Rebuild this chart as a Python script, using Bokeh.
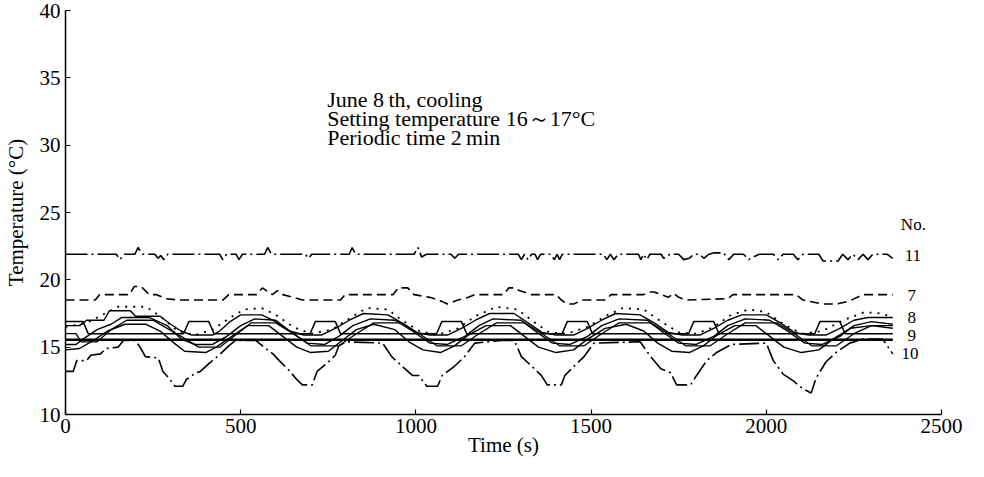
from bokeh.plotting import figure
from bokeh.models import Range1d, FixedTicker
from bokeh.core.properties import value
from bokeh.embed import file_html
from bokeh.resources import INLINE

# ---- tick values ----
x_ticks = [0, 500, 1000, 1500, 2000, 2500]
y_ticks = [10, 15, 20, 25, 30, 35, 40]

# ---- No.11 (dash-dot, ~22 C) ----
t11 = [0, 145, 155, 168, 198, 207, 220, 255, 264, 272, 281, 292, 440, 449, 460, 487, 495, 505,
       568, 577, 588, 685, 693, 703, 810, 818, 828, 995, 1006, 1016, 1030, 1100, 1111, 1122,
       1292, 1301, 1310, 1320, 1330, 1340, 1347, 1356, 1385, 1395, 1403, 1410, 1418, 1535, 1545,
       1555, 1565, 1578, 1635, 1642, 1650, 1659, 1668, 1700, 1707, 1725, 1750, 1764, 1780, 1793,
       1810, 1822, 1836, 1850, 1878, 1893, 1907, 1935, 1950, 1963, 1980, 2020, 2034, 2048, 2077,
       2090, 2105, 2150, 2162, 2205, 2218, 2233, 2247, 2262, 2276, 2290, 2304, 2345, 2361]
v11 = [21.9, 21.9, 21.5, 21.9, 21.9, 22.4, 21.9, 21.9, 21.6, 21.8, 21.5, 21.9, 21.9, 21.5, 21.9, 21.9, 21.5, 21.9,
       21.9, 22.4, 21.9, 21.9, 21.6, 21.9, 21.9, 22.4, 21.9, 21.9, 22.4, 21.7, 21.9, 21.9, 21.6, 21.9,
       21.9, 21.5, 21.9, 21.5, 21.9, 21.9, 21.5, 21.9, 21.9, 21.5, 21.9, 21.5, 21.9, 21.9, 21.5,
       21.9, 21.5, 21.9, 21.9, 21.5, 21.9, 21.5, 21.9, 21.9, 21.6, 21.9, 21.9, 21.5, 21.6, 21.9,
       21.9, 21.6, 21.9, 22.0, 22.0, 21.5, 21.9, 21.9, 21.5, 21.7, 21.9, 21.9, 21.5, 21.9, 21.9,
       21.5, 21.9, 21.9, 21.4, 21.4, 21.9, 21.5, 21.9, 21.5, 21.9, 21.5, 21.9, 21.9, 21.6]

# ---- No.7 (dashed, ~18.5 C) ----
t7 = [0, 85, 97, 182, 196, 216, 239, 260, 287, 324, 449, 466, 545, 562, 590, 605, 620, 650, 676,
      785, 798, 935, 949, 977, 995, 1040, 1074, 1090, 1120, 1150, 1168, 1250, 1265, 1281, 1295,
      1330, 1400, 1415, 1432, 1450, 1475, 1540, 1557, 1650, 1665, 1680, 1700, 1720, 1736, 1750,
      1773, 1890, 1905, 2085, 2105, 2162, 2199, 2235, 2276, 2361]
v7 = [18.5, 18.5, 18.9, 18.9, 19.5, 19.5, 18.9, 18.9, 18.6, 18.5, 18.5, 18.9, 18.9, 19.4, 18.9, 19.2, 18.9, 18.7, 18.5,
      18.5, 18.9, 18.9, 19.4, 19.4, 18.9, 18.7, 18.4, 18.2, 18.5, 18.7, 18.9, 18.9, 19.4, 19.4, 19.2,
      18.9, 18.9, 18.5, 18.2, 18.2, 18.5, 18.5, 18.9, 18.9, 19.1, 19.1, 18.9, 18.7, 19.0, 18.7,
      18.5, 18.6, 18.9, 18.9, 18.5, 18.2, 18.2, 18.4, 18.9, 18.9]

# ---- No.8 (dotted, upper envelope) ----
t8 = [0, 60, 120, 150, 230, 270, 320, 370, 420, 470, 510, 560, 600, 650, 700, 760, 820, 860, 920,
      960, 1010, 1060, 1120, 1170, 1230, 1290, 1330, 1380, 1430, 1490, 1540, 1590, 1650, 1700,
      1750, 1800, 1850, 1900, 1950, 2000, 2050, 2100, 2160, 2220, 2280, 2330, 2361]
v8 = [16.5, 16.8, 17.6, 18.0, 18.0, 17.3, 16.2, 15.9, 16.3, 17.2, 17.8, 17.9, 17.4, 16.5, 16.0, 16.3, 17.3, 17.9, 17.8,
      17.0, 16.2, 15.9, 16.4, 17.3, 18.0, 17.8, 17.0, 16.1, 16.0, 16.5, 17.3, 17.9, 17.8, 16.9,
      16.1, 16.0, 16.5, 17.4, 17.8, 17.6, 16.7, 16.0, 16.2, 17.0, 17.6, 17.5, 17.2]

# ---- solid, upper in-phase ----
ta = [0, 40, 60, 110, 125, 185, 200, 270, 300, 330, 360, 420, 440, 470, 500, 560, 600, 640, 680,
      730, 770, 810, 850, 920, 960, 1000, 1040, 1090, 1130, 1170, 1210, 1280, 1320, 1360, 1400,
      1450, 1490, 1530, 1570, 1640, 1680, 1720, 1760, 1810, 1850, 1890, 1930, 2000, 2040, 2080,
      2120, 2170, 2210, 2250, 2290, 2361]
va = [16.6, 16.6, 17.0, 17.0, 17.7, 17.7, 17.3, 17.3, 16.7, 16.2, 15.9, 15.9, 16.2, 16.9, 17.4, 17.4, 16.9, 16.2, 15.9,
      15.9, 16.4, 17.0, 17.5, 17.4, 16.8, 16.1, 15.9, 15.9, 16.4, 17.0, 17.5, 17.5, 16.8, 16.1, 15.9,
      15.9, 16.4, 17.0, 17.5, 17.4, 16.8, 16.1, 15.9, 15.9, 16.4, 17.0, 17.4, 17.4, 16.8, 16.1,
      15.9, 15.9, 16.4, 17.0, 17.2, 17.2]

# ---- solid, middle in-phase ----
tb = [0, 30, 50, 90, 130, 160, 240, 290, 330, 370, 420, 460, 500, 540, 600, 640, 690, 740, 780,
      820, 870, 940, 990, 1040, 1090, 1140, 1180, 1220, 1300, 1340, 1390, 1440, 1490, 1530, 1580,
      1660, 1700, 1750, 1800, 1850, 1890, 1940, 2010, 2060, 2110, 2160, 2210, 2250, 2300, 2361]
vb = [15.2, 15.2, 15.6, 16.3, 16.7, 17.2, 17.2, 16.6, 15.6, 15.2, 15.2, 15.8, 16.6, 17.1, 17.0, 16.2, 15.3, 15.2, 15.8,
      16.6, 17.1, 17.0, 16.2, 15.3, 15.2, 15.8, 16.6, 17.1, 17.0, 16.2, 15.3, 15.2, 15.8, 16.6, 17.1,
      17.0, 16.2, 15.3, 15.2, 15.8, 16.6, 17.1, 17.0, 16.2, 15.3, 15.2, 15.8, 16.6, 16.9, 16.7]

# ---- solid, lagging in-phase ----
tf = [0, 30, 45, 90, 130, 175, 250, 290, 330, 380, 440, 490, 530, 600, 650, 700, 780, 830, 880,
      960, 1010, 1060, 1130, 1180, 1230, 1310, 1360, 1410, 1480, 1530, 1580, 1670, 1720, 1770,
      1840, 1890, 1940, 2030, 2080, 2130, 2200, 2250, 2300, 2361]
vf = [16.0, 16.0, 15.4, 15.4, 16.3, 17.0, 17.0, 16.4, 15.8, 15.0, 15.0, 16.0, 16.8, 16.8, 16.0, 15.1, 15.1, 16.0, 16.8,
      16.8, 16.0, 15.1, 15.1, 16.0, 16.8, 16.8, 16.0, 15.1, 15.1, 16.0, 16.8, 16.8, 16.0, 15.1,
      15.1, 16.0, 16.8, 16.8, 16.0, 15.1, 15.1, 16.0, 16.6, 16.6]

# ---- solid, lower in-phase ----
tc = [0, 40, 80, 120, 170, 230, 270, 310, 340, 400, 430, 480, 520, 580, 620, 660, 700, 750, 790,
      830, 880, 940, 980, 1020, 1070, 1110, 1150, 1200, 1270, 1310, 1350, 1400, 1450, 1490, 1540,
      1600, 1650, 1690, 1730, 1780, 1820, 1860, 1910, 1970, 2010, 2050, 2100, 2150, 2190, 2240,
      2300, 2361]
vc = [14.8, 14.9, 15.5, 16.2, 16.7, 16.7, 16.2, 15.3, 14.7, 14.6, 15.0, 15.9, 16.6, 16.6, 15.8, 15.0, 14.6, 14.7, 15.5,
      16.3, 16.7, 16.3, 15.4, 14.8, 14.6, 15.1, 15.9, 16.6, 16.6, 15.8, 15.0, 14.6, 14.8, 15.6, 16.4,
      16.7, 16.2, 15.3, 14.7, 14.6, 15.1, 15.9, 16.6, 16.6, 15.8, 15.0, 14.6, 14.8, 15.6, 16.4,
      16.6, 16.4]

# ---- No.9 (solid, trapezoid out of phase) ----
t9 = [0, 50, 65, 337, 352, 409, 424, 698, 713, 770, 785, 1059, 1074, 1130, 1145, 1417, 1432, 1489,
      1504, 1778, 1793, 1850, 1865, 2138, 2153, 2210, 2225, 2361]
v9 = [16.9, 16.9, 16.0, 16.0, 16.9, 16.9, 16.0, 16.0, 16.9, 16.9, 16.0, 16.0, 16.9, 16.9, 16.0, 16.0, 16.9, 16.9,
      16.0, 16.0, 16.9, 16.9, 16.0, 16.0, 16.9, 16.9, 16.0, 16.0]

# ---- thick flat solid ----
te = [0, 2361]
ve = [15.55, 15.55]

# ---- No.10 (dash-dot, lowest) ----
t10 = [0, 22, 32, 60, 72, 100, 115, 150, 165, 200, 215, 228, 265, 278, 295, 312, 335, 345, 372, 385,
       410, 438, 466, 485, 543, 571, 592, 610, 637, 660, 676, 704, 718, 750, 770, 780, 800, 905,
       931, 960, 990, 1008, 1031, 1062, 1075, 1111, 1139, 1168, 1244, 1281, 1301, 1330, 1358, 1375,
       1415, 1425, 1452, 1480, 1508, 1640, 1670, 1699, 1727, 1744, 1784, 1801, 1830, 1858, 1900,
       2000, 2020, 2048, 2077, 2105, 2128, 2142, 2170, 2199, 2238, 2276, 2332, 2361]
v10 = [13.2, 13.2, 14.0, 14.0, 14.4, 14.5, 14.9, 15.0, 15.5, 15.5, 14.9, 14.3, 14.2, 13.2, 12.7, 12.1, 12.1, 12.6, 13.1, 13.2,
       13.8, 14.4, 15.1, 15.5, 15.5, 14.9, 14.5, 14.0, 13.3, 12.6, 12.2, 12.2, 13.2, 13.9, 14.4, 15.1, 15.4, 15.3,
       14.3, 13.6, 12.9, 12.9, 12.1, 12.1, 12.9, 13.6, 14.3, 15.3, 15.5, 15.5, 14.3, 13.6, 12.9, 12.2,
       12.2, 12.9, 13.6, 14.3, 15.3, 15.4, 14.3, 13.4, 13.1, 12.2, 12.2, 12.9, 14.0, 14.6, 15.2,
       15.3, 14.0, 13.0, 12.5, 11.9, 11.6, 12.7, 13.9, 14.6, 15.3, 15.6, 15.6, 14.5]

# ---- text ----
note_lines = ["June 8\u2009th,  cooling", "Setting temperature 16\uff5e17\u00b0C", "Periodic time 2\u2009min"]
note_y = [33.37, 31.97, 30.56]
series_names = ["No.", "11", "7", "8", "9", "10"]
name_x = [2384, 2395, 2403, 2403, 2403, 2386]
name_y = [24.1, 21.8, 18.84, 17.22, 15.9, 14.5]

SERIF = "Liberation Serif"

p = figure(width=968, height=461, output_backend="svg", toolbar_location=None,
           x_range=Range1d(0, 2500), y_range=Range1d(10, 40),
           min_border_left=61, min_border_right=27, min_border_top=10, min_border_bottom=47)
p.grid.visible = False
p.outline_line_color = None
p.background_fill_color = "white"
p.border_fill_color = "white"

for ax in (p.xaxis[0], p.yaxis[0]):
    ax.axis_line_width = 1.5
    ax.axis_line_color = "black"
    ax.major_tick_in = 5
    ax.major_tick_out = 0
    ax.major_tick_line_width = 1.2
    ax.minor_tick_line_color = None
    ax.major_label_text_font = SERIF
    ax.major_label_text_font_size = "21px"
    ax.major_label_text_color = "black"
    ax.axis_label_text_font = SERIF
    ax.axis_label_text_font_size = "21px"
    ax.axis_label_text_font_style = "normal"
    ax.axis_label_text_color = "black"

p.xaxis.ticker = FixedTicker(ticks=x_ticks)
p.yaxis.ticker = FixedTicker(ticks=y_ticks)
p.xaxis.major_label_standoff = 4
p.yaxis.major_label_standoff = 5
p.yaxis.axis_label = "Temperature (\u00b0C)"
p.yaxis.axis_label_standoff = 9
p.xaxis.axis_label = "Time (s)"
p.xaxis.axis_label_standoff = -3

K = "black"
p.line(t11, v11, line_color=K, line_width=1.6, line_dash="22 4 2 4")
p.line(t7, v7, line_color=K, line_width=1.6, line_dash="9 5")
p.line(t8, v8, line_color=K, line_width=1.8, line_dash="2 6")
p.line(ta, va, line_color=K, line_width=1.4)
p.line(tb, vb, line_color=K, line_width=1.4)
p.line(tf, vf, line_color=K, line_width=1.3)
p.line(tc, vc, line_color=K, line_width=1.4)
p.line(t9, v9, line_color=K, line_width=1.5)
p.line(te, ve, line_color=K, line_width=2.6)
p.line(t10, v10, line_color=K, line_width=1.6, line_dash="20 4 2 4")

p.text(x=[747] * len(note_lines), y=note_y, text=note_lines, text_font=value(SERIF),
       text_font_size="22px", text_baseline="alphabetic", text_align="left", text_color=K)
p.text(x=name_x, y=name_y, text=series_names, text_font=value(SERIF),
       text_font_size="17px", text_baseline="middle", text_align="left", text_color=K)

open("out.html", "w").write(file_html(p, INLINE))
